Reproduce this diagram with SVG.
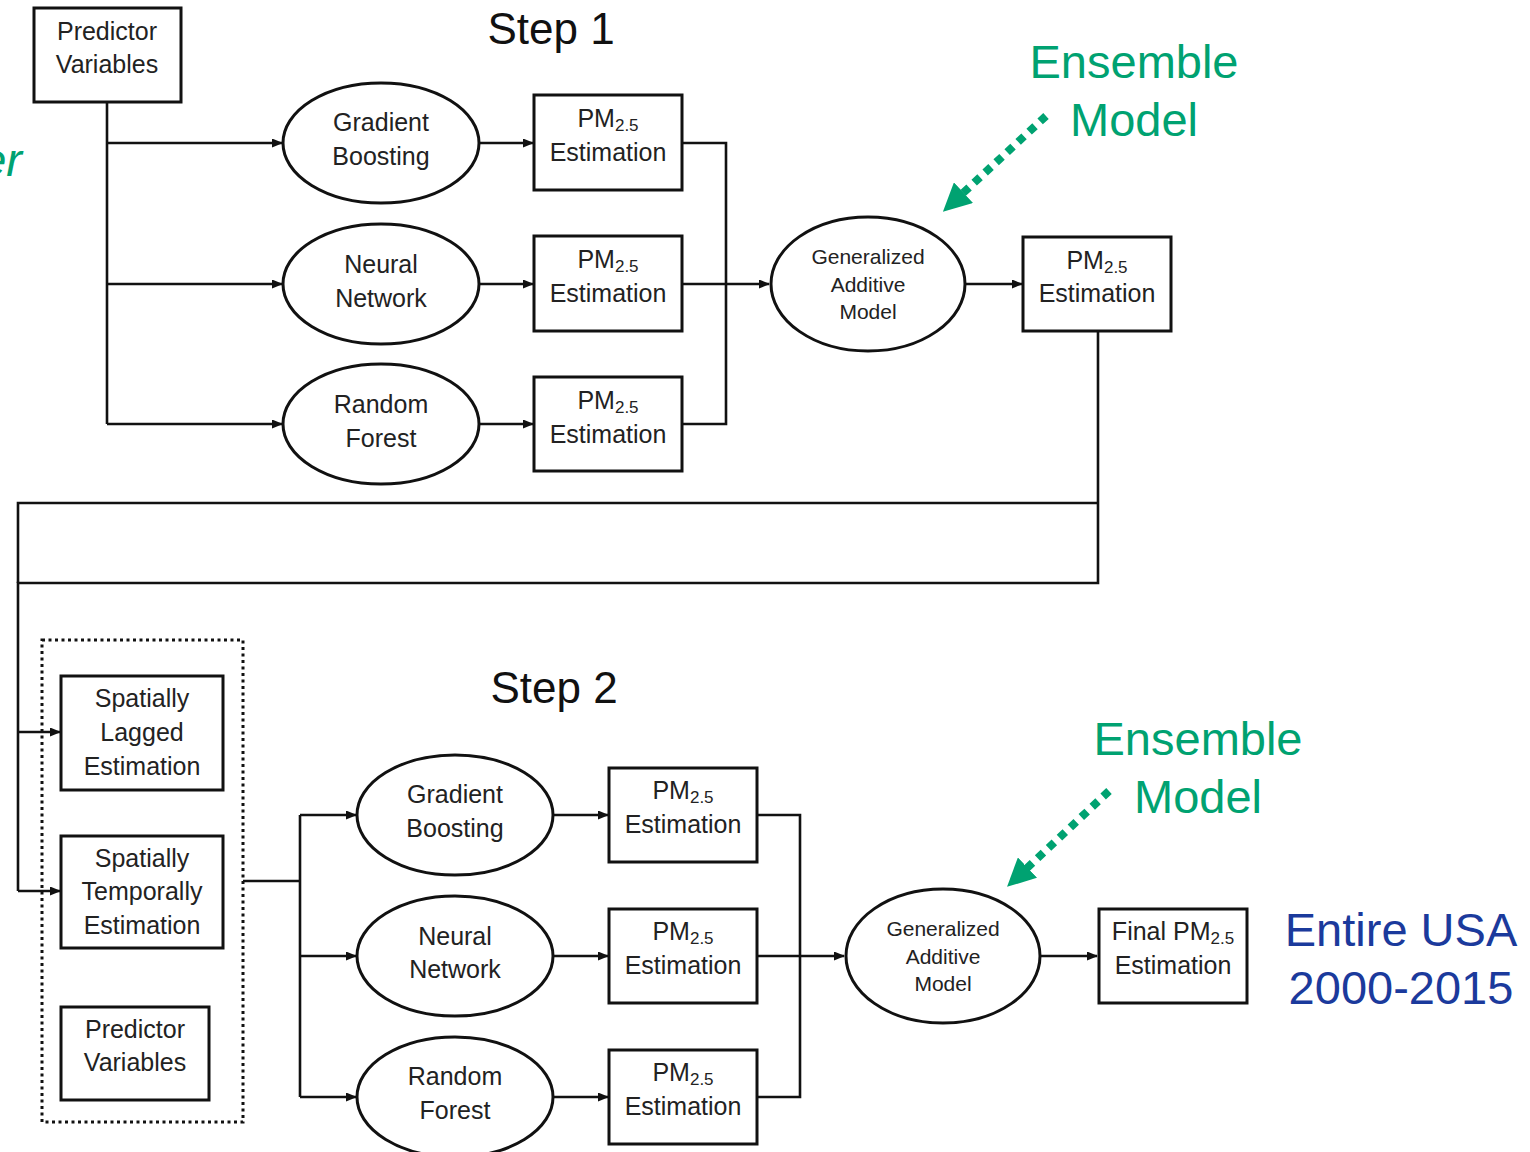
<svg xmlns="http://www.w3.org/2000/svg" width="1530" height="1152" viewBox="0 0 1530 1152">
  <style>
    .box { fill: #fff; stroke: #111; stroke-width: 3; }
    .ell { fill: #fff; stroke: #111; stroke-width: 3; }
    .wire { fill: none; stroke: #111; stroke-width: 2.6; }
    .arr { marker-end: url(#head); }
    .lbl { font-family: "Liberation Sans", Arial, sans-serif; font-size: 25px; fill: #222; text-anchor: middle; }
    .gam { font-family: "Liberation Sans", Arial, sans-serif; font-size: 21px; fill: #222; text-anchor: middle; }
    .sub { font-size: 17px; }
    .step { font-family: "Liberation Sans", Arial, sans-serif; font-size: 44px; fill: #111; text-anchor: middle; }
    .ens { font-family: "Liberation Sans", Arial, sans-serif; font-size: 47px; fill: #00a271; text-anchor: middle; }
    .usa { font-family: "Liberation Sans", Arial, sans-serif; font-size: 47px; fill: #1b3a9c; text-anchor: middle; }
    .gdot { fill: none; stroke: #00a271; stroke-width: 8; stroke-dasharray: 8 7; marker-end: url(#ghead); }
    .frame { fill: none; stroke: #111; stroke-width: 3; stroke-dasharray: 3 3.5; }
  </style>
  <defs>
    <marker id="head" markerUnits="userSpaceOnUse" markerWidth="11" markerHeight="9" refX="10" refY="4.5" orient="auto">
      <path d="M0,0 L11,4.5 L0,9 z" fill="#111"/>
    </marker>
    <marker id="ghead" markerUnits="userSpaceOnUse" markerWidth="30" markerHeight="28" refX="2" refY="14" orient="auto">
      <path d="M0,0 L28,14 L0,28 z" fill="#00a271"/>
    </marker>
  </defs>

  <rect width="1530" height="1152" fill="#fff"/>

  <!-- connectors -->
  <g id="connectors">
    <!-- step 1 fan-out -->
    <path class="wire" d="M107,102 V424"/>
    <path class="wire arr" d="M107,143 H282"/>
    <path class="wire arr" d="M107,284 H282"/>
    <path class="wire arr" d="M107,424 H282"/>
    <path class="wire arr" d="M479,143 H533"/>
    <path class="wire arr" d="M479,284 H533"/>
    <path class="wire arr" d="M479,424 H533"/>
    <!-- step 1 collector -->
    <path class="wire" d="M682,143 H726 V424 H682"/>
    <path class="wire arr" d="M682,284 H769"/>
    <path class="wire arr" d="M965,284 H1022"/>
    <!-- feedback loop into step 2 -->
    <path class="wire" d="M1098,331 V583 H18 V891"/>
    <path class="wire" d="M18,583 V503 H1098"/>
    <path class="wire arr" d="M18,732 H60"/>
    <path class="wire arr" d="M18,891 H60"/>
    <!-- step 2 fan-out -->
    <path class="wire" d="M243,881 H300"/>
    <path class="wire" d="M300,815 V1097"/>
    <path class="wire arr" d="M300,815 H356"/>
    <path class="wire arr" d="M300,956 H356"/>
    <path class="wire arr" d="M300,1097 H356"/>
    <path class="wire arr" d="M553,815 H608"/>
    <path class="wire arr" d="M553,956 H608"/>
    <path class="wire arr" d="M553,1097 H608"/>
    <!-- step 2 collector -->
    <path class="wire" d="M757,815 H800 V1097 H757"/>
    <path class="wire arr" d="M757,956 H844"/>
    <path class="wire arr" d="M1041,956 H1097"/>
    <!-- ensemble pointers -->
    <path class="gdot" d="M1046,116 L962,194"/>
    <path class="gdot" d="M1109,791 L1026,869"/>
  </g>

  <!-- titles -->
  <text class="step" x="551" y="44">Step 1</text>
  <text class="step" x="554" y="703">Step 2</text>
  <text class="ens" x="1134" y="78">Ensemble</text>
  <text class="ens" x="1134" y="136">Model</text>
  <text class="ens" x="1198" y="755">Ensemble</text>
  <text class="ens" x="1198" y="813">Model</text>
  <text class="ens" x="22" y="176" style="text-anchor:end;font-style:italic">er</text>
  <text class="usa" x="1401" y="946">Entire USA</text>
  <text class="usa" x="1401" y="1004">2000-2015</text>

  <!-- step 1 -->
  <g id="pred1">
    <rect class="box" x="34" y="8" width="147" height="94"/>
    <text class="lbl" x="107" y="40">Predictor</text>
    <text class="lbl" x="107" y="73">Variables</text>
  </g>
  <g id="gb1">
    <ellipse class="ell" cx="381" cy="143" rx="98" ry="60"/>
    <text class="lbl" x="381" y="131">Gradient</text>
    <text class="lbl" x="381" y="165">Boosting</text>
  </g>
  <g id="nn1">
    <ellipse class="ell" cx="381" cy="284" rx="98" ry="60"/>
    <text class="lbl" x="381" y="273">Neural</text>
    <text class="lbl" x="381" y="307">Network</text>
  </g>
  <g id="rf1">
    <ellipse class="ell" cx="381" cy="424" rx="98" ry="60"/>
    <text class="lbl" x="381" y="413">Random</text>
    <text class="lbl" x="381" y="447">Forest</text>
  </g>
  <g id="est1a">
    <rect class="box" x="534" y="95" width="148" height="95"/>
    <text class="lbl" x="608" y="127">PM<tspan class="sub" dy="4">2.5</tspan></text>
    <text class="lbl" x="608" y="161">Estimation</text>
  </g>
  <g id="est1b">
    <rect class="box" x="534" y="236" width="148" height="95"/>
    <text class="lbl" x="608" y="268">PM<tspan class="sub" dy="4">2.5</tspan></text>
    <text class="lbl" x="608" y="302">Estimation</text>
  </g>
  <g id="est1c">
    <rect class="box" x="534" y="377" width="148" height="94"/>
    <text class="lbl" x="608" y="409">PM<tspan class="sub" dy="4">2.5</tspan></text>
    <text class="lbl" x="608" y="443">Estimation</text>
  </g>
  <g id="gam1">
    <ellipse class="ell" cx="868" cy="284" rx="97" ry="67"/>
    <text class="gam" x="868" y="264">Generalized</text>
    <text class="gam" x="868" y="292">Additive</text>
    <text class="gam" x="868" y="319">Model</text>
  </g>
  <g id="est1out">
    <rect class="box" x="1023" y="237" width="148" height="94"/>
    <text class="lbl" x="1097" y="269">PM<tspan class="sub" dy="4">2.5</tspan></text>
    <text class="lbl" x="1097" y="302">Estimation</text>
  </g>

  <!-- step 2 inputs -->
  <g id="inputs">
    <rect class="frame" x="42" y="640" width="201" height="482"/>
  </g>
  <g id="lagged">
    <rect class="box" x="61" y="676" width="162" height="114"/>
    <text class="lbl" x="142" y="707">Spatially</text>
    <text class="lbl" x="142" y="741">Lagged</text>
    <text class="lbl" x="142" y="775">Estimation</text>
  </g>
  <g id="temporal">
    <rect class="box" x="61" y="836" width="162" height="112"/>
    <text class="lbl" x="142" y="867">Spatially</text>
    <text class="lbl" x="142" y="900">Temporally</text>
    <text class="lbl" x="142" y="934">Estimation</text>
  </g>
  <g id="pred2">
    <rect class="box" x="61" y="1007" width="148" height="93"/>
    <text class="lbl" x="135" y="1038">Predictor</text>
    <text class="lbl" x="135" y="1071">Variables</text>
  </g>

  <!-- step 2 models -->
  <g id="gb2">
    <ellipse class="ell" cx="455" cy="815" rx="98" ry="60"/>
    <text class="lbl" x="455" y="803">Gradient</text>
    <text class="lbl" x="455" y="837">Boosting</text>
  </g>
  <g id="nn2">
    <ellipse class="ell" cx="455" cy="956" rx="98" ry="60"/>
    <text class="lbl" x="455" y="945">Neural</text>
    <text class="lbl" x="455" y="978">Network</text>
  </g>
  <g id="rf2">
    <ellipse class="ell" cx="455" cy="1097" rx="98" ry="60"/>
    <text class="lbl" x="455" y="1085">Random</text>
    <text class="lbl" x="455" y="1119">Forest</text>
  </g>
  <g id="est2a">
    <rect class="box" x="609" y="768" width="148" height="94"/>
    <text class="lbl" x="683" y="799">PM<tspan class="sub" dy="4">2.5</tspan></text>
    <text class="lbl" x="683" y="833">Estimation</text>
  </g>
  <g id="est2b">
    <rect class="box" x="609" y="909" width="148" height="94"/>
    <text class="lbl" x="683" y="940">PM<tspan class="sub" dy="4">2.5</tspan></text>
    <text class="lbl" x="683" y="974">Estimation</text>
  </g>
  <g id="est2c">
    <rect class="box" x="609" y="1050" width="148" height="94"/>
    <text class="lbl" x="683" y="1081">PM<tspan class="sub" dy="4">2.5</tspan></text>
    <text class="lbl" x="683" y="1115">Estimation</text>
  </g>
  <g id="gam2">
    <ellipse class="ell" cx="943" cy="956" rx="97" ry="67"/>
    <text class="gam" x="943" y="936">Generalized</text>
    <text class="gam" x="943" y="964">Additive</text>
    <text class="gam" x="943" y="991">Model</text>
  </g>
  <g id="final">
    <rect class="box" x="1099" y="909" width="148" height="94"/>
    <text class="lbl" x="1173" y="940">Final PM<tspan class="sub" dy="4">2.5</tspan></text>
    <text class="lbl" x="1173" y="974">Estimation</text>
  </g>
</svg>
